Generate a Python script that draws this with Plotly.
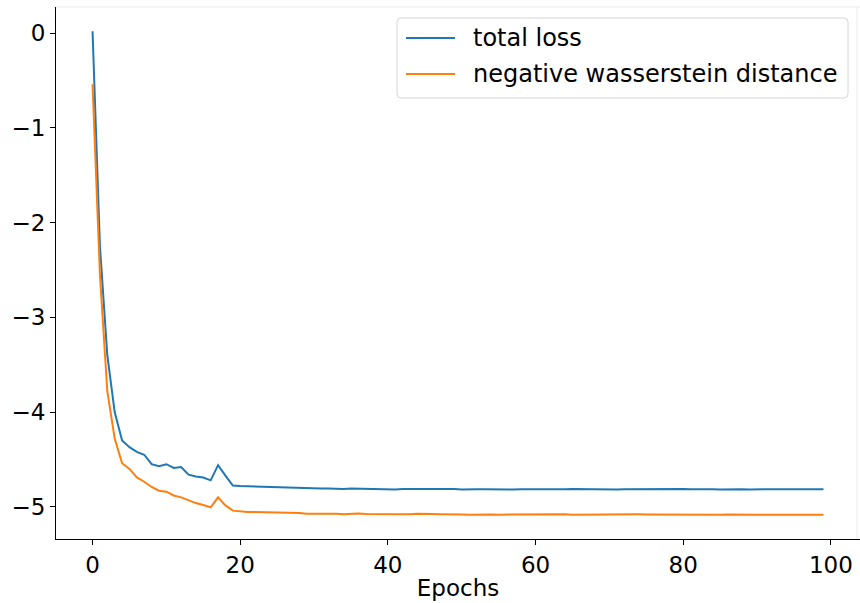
import plotly.graph_objects as go

# Training history: one value per epoch
epochs = list(range(100))

total_loss = [
    0.02, -2.25, -3.40, -4.00, -4.30, -4.37, -4.42, -4.45, -4.55, -4.57,
    -4.55, -4.59, -4.58, -4.66, -4.68, -4.69, -4.72, -4.56, -4.67, -4.775,
    -4.780, -4.783, -4.786, -4.788, -4.789, -4.793, -4.792, -4.797, -4.799, -4.806,
    -4.807, -4.806, -4.805, -4.808, -4.811, -4.805, -4.808, -4.810, -4.807, -4.811,
    -4.815, -4.816, -4.812, -4.811, -4.809, -4.813, -4.811, -4.812, -4.813, -4.811,
    -4.816, -4.818, -4.815, -4.814, -4.816, -4.817, -4.815, -4.816, -4.813, -4.814,
    -4.815, -4.812, -4.810, -4.813, -4.814, -4.811, -4.812, -4.815, -4.818, -4.813,
    -4.814, -4.816, -4.813, -4.812, -4.815, -4.816, -4.813, -4.812, -4.814, -4.813,
    -4.811, -4.814, -4.812, -4.816, -4.815, -4.817, -4.814, -4.815, -4.813, -4.816,
    -4.818, -4.815, -4.814, -4.818, -4.815, -4.813, -4.816, -4.815, -4.814, -4.815,
]

neg_wasserstein = [
    -0.54, -2.55, -3.78, -4.28, -4.54, -4.60, -4.69, -4.735, -4.79, -4.83,
    -4.84, -4.88, -4.90, -4.93, -4.96, -4.98, -5.005, -4.90, -4.985, -5.04,
    -5.050, -5.053, -5.055, -5.056, -5.058, -5.057, -5.062, -5.064, -5.066, -5.072,
    -5.071, -5.069, -5.068, -5.072, -5.078, -5.074, -5.071, -5.076, -5.077, -5.078,
    -5.081, -5.079, -5.078, -5.077, -5.074, -5.079, -5.076, -5.078, -5.077, -5.075,
    -5.080, -5.083, -5.080, -5.082, -5.080, -5.082, -5.081, -5.080, -5.079, -5.080,
    -5.080, -5.079, -5.078, -5.078, -5.079, -5.082, -5.081, -5.079, -5.078, -5.081,
    -5.080, -5.079, -5.079, -5.080, -5.079, -5.080, -5.081, -5.081, -5.080, -5.079,
    -5.080, -5.079, -5.079, -5.080, -5.081, -5.082, -5.081, -5.083, -5.082, -5.083,
    -5.084, -5.083, -5.084, -5.084, -5.083, -5.083, -5.082, -5.083, -5.083, -5.084,
]

series_names = ["total loss", "negative wasserstein distance"]
series_colors = ["#1f77b4", "#ff7f0e"]

x_ticks = [0, 20, 40, 60, 80, 100]
y_ticks = [0, -1, -2, -3, -4, -5]

FONT = "DejaVu Sans"
W, H = 860, 603
M_L, M_R, M_T, M_B = 56, 0, 7, 64
PLOT_W = W - M_L - M_R
PLOT_H = H - M_T - M_B


def padded(lo, hi, frac=0.05):
    span = hi - lo
    return [lo - frac * span, hi + frac * span]


def px_to_paper(px, py):
    """Convert figure pixel offsets to paper coordinates."""
    return (px - M_L) / PLOT_W, 1 - (py - M_T) / PLOT_H


fig = go.Figure()
for name, values, color in zip(series_names, [total_loss, neg_wasserstein], series_colors):
    fig.add_trace(go.Scatter(
        x=epochs, y=values, mode="lines", name=name,
        line=dict(color=color, width=2),
        showlegend=False,
    ))

all_y = total_loss + neg_wasserstein

# Legend panel in the upper right corner (rounded frame, swatches, labels)
box_l, box_r, box_t, box_b, radius = 397, 848, 18, 98, 4
shapes = []
x0, y0 = px_to_paper(box_l, box_t)
x1, y1 = px_to_paper(box_r, box_b)
rx, ry = radius / PLOT_W, radius / PLOT_H
path = (
    f"M {x0 + rx},{y0} L {x1 - rx},{y0} Q {x1},{y0} {x1},{y0 - ry} "
    f"L {x1},{y1 + ry} Q {x1},{y1} {x1 - rx},{y1} "
    f"L {x0 + rx},{y1} Q {x0},{y1} {x0},{y1 + ry} "
    f"L {x0},{y0 - ry} Q {x0},{y0} {x0 + rx},{y0} Z"
)
shapes.append(dict(type="path", xref="paper", yref="paper", path=path,
                   fillcolor="rgba(255,255,255,0.8)", line=dict(color="#d6d6d6", width=1),
                   layer="above"))

annotations = []
row_y = [38, 74]
for name, color, ry_px in zip(series_names, series_colors, row_y):
    sx0, sy = px_to_paper(406, ry_px)
    sx1, _ = px_to_paper(455, ry_px)
    shapes.append(dict(type="line", xref="paper", yref="paper",
                       x0=sx0, x1=sx1, y0=sy, y1=sy,
                       line=dict(color=color, width=2), layer="above"))
    tx, _ = px_to_paper(471, ry_px)
    annotations.append(dict(xref="paper", yref="paper", x=tx, y=sy,
                            xanchor="left", yanchor="middle", showarrow=False,
                            text=name, font=dict(family=FONT, size=24, color="black")))

# faint outer frame lines
shapes.append(dict(type="line", xref="paper", yref="paper", x0=0, x1=1, y0=1, y1=1,
                   line=dict(color="#ebebeb", width=1), layer="below"))
fx, _ = px_to_paper(857, 0)
shapes.append(dict(type="line", xref="paper", yref="paper", x0=fx, x1=fx, y0=0, y1=1,
                   line=dict(color="#ebebeb", width=1), layer="below"))

fig.update_layout(
    width=W, height=H,
    margin=dict(l=M_L, r=M_R, t=M_T, b=M_B),
    paper_bgcolor="white", plot_bgcolor="white",
    font=dict(family=FONT, size=23, color="black"),
    showlegend=False,
    xaxis=dict(
        range=padded(min(epochs), max(epochs)),
        tickmode="array", tickvals=x_ticks, ticktext=[str(v) for v in x_ticks],
        ticks="outside", ticklen=5, tickwidth=1, tickcolor="black",
        showline=True, linecolor="black", linewidth=1,
        showgrid=False, zeroline=False,
        title=dict(text="Epochs", font=dict(family=FONT, size=23, color="black"), standoff=3),
        tickfont=dict(family=FONT, size=23, color="black"),
    ),
    yaxis=dict(
        range=padded(min(all_y), max(all_y)),
        tickmode="array", tickvals=y_ticks,
        ticktext=[("\u2212" + str(-v)) if v < 0 else str(v) for v in y_ticks],
        ticks="outside", ticklen=5, tickwidth=1, tickcolor="black",
        showline=True, linecolor="black", linewidth=1,
        showgrid=False, zeroline=False,
        tickfont=dict(family=FONT, size=23, color="black"),
    ),
    shapes=shapes,
    annotations=annotations,
)

fig.write_html("out.html")
